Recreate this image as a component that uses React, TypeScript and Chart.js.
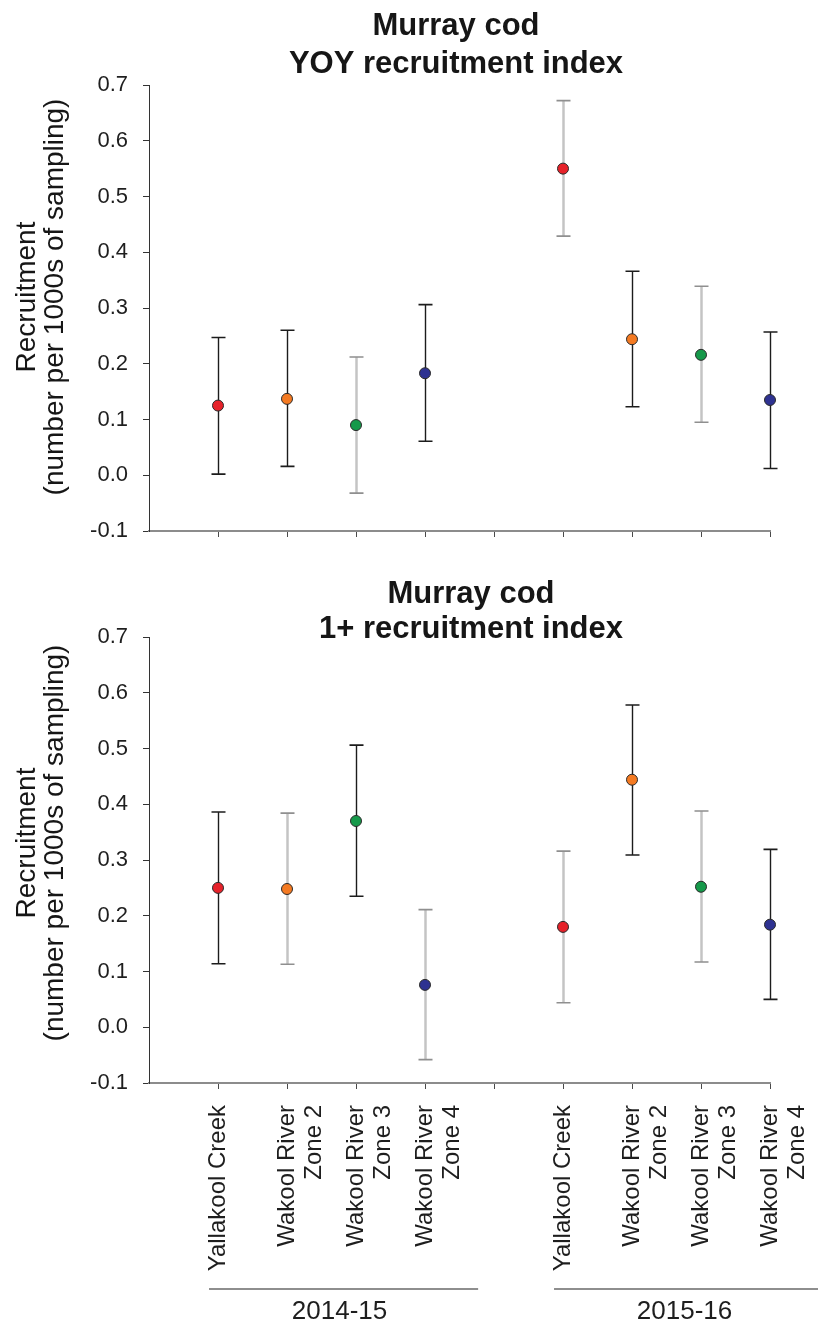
import React, { useEffect, useRef } from 'react';
import { Chart, registerables } from 'chart.js';

Chart.register(...registerables);

// ---------- data ----------
const seasons = ['2014-15', '2015-16'];
const sites: string[][] = [
  ['Yallakool Creek'],
  ['Wakool River', 'Zone 2'],
  ['Wakool River', 'Zone 3'],
  ['Wakool River', 'Zone 4'],
];
const siteColors = ['#e6222a', '#f47a22', '#16994a', '#2e3291'];

// YOY recruitment index (order: 2014-15 sites, then 2015-16 sites)
const yoyMean = [0.125, 0.137, 0.090, 0.183, 0.550, 0.244, 0.216, 0.135];
const yoyLower = [0.002, 0.016, -0.032, 0.061, 0.429, 0.123, 0.095, 0.012];
const yoyUpper = [0.247, 0.260, 0.212, 0.306, 0.672, 0.366, 0.339, 0.257];
const yoyBarTone = ['dark', 'dark', 'light', 'dark', 'light', 'dark', 'light', 'dark'];

// 1+ recruitment index
const plusMean = [0.250, 0.248, 0.370, 0.076, 0.180, 0.444, 0.252, 0.184];
const plusLower = [0.114, 0.113, 0.235, -0.058, 0.044, 0.309, 0.117, 0.050];
const plusUpper = [0.386, 0.384, 0.506, 0.211, 0.316, 0.578, 0.388, 0.319];
const plusBarTone = ['dark', 'light', 'dark', 'light', 'light', 'dark', 'light', 'dark'];

const yMin = -0.1;
const yMax = 0.7;
const yStep = 0.1;

const yTitleLines = ['Recruitment', '(number per 1000s of sampling)'];
const yoyTitle = ['Murray cod', 'YOY recruitment index'];
const plusTitle = ['Murray cod', '1+ recruitment index'];

// ---------- helpers ----------
const FONT = "'Liberation Sans', Arial, Helvetica, sans-serif";
const SLOT = sites.length + 1; // one empty slot between seasons
const X_MAX = seasons.length * SLOT - 1;

function positionOf(seasonIdx: number, siteIdx: number) {
  return seasonIdx * SLOT + siteIdx + 1;
}

function buildPoints(values: number[]) {
  const pts: { x: number; y: number }[] = [];
  seasons.forEach((_, s) => {
    sites.forEach((__, k) => {
      pts.push({ x: positionOf(s, k), y: values[s * sites.length + k] });
    });
  });
  return pts;
}

function pointColors() {
  const c: string[] = [];
  seasons.forEach(() => sites.forEach((_, k) => c.push(siteColors[k])));
  return c;
}

function labelFor(value: number) {
  const v = Math.round(value);
  if (v <= 0) return '';
  const k = v - 1;
  const siteIdx = k % SLOT;
  if (siteIdx >= sites.length) return '';
  return sites[siteIdx];
}

function formatY(v: number) {
  const n = Math.abs(v) < 1e-9 ? 0 : v;
  return n.toFixed(1);
}

const errorBarPlugin = {
  id: 'errorBars',
  beforeDatasetsDraw(chart: any) {
    const { ctx } = chart;
    const xs = chart.scales.x;
    const ys = chart.scales.y;
    const ds: any = chart.data.datasets[0];
    ctx.save();
    ds.data.forEach((p: any, i: number) => {
      const px = Math.round(xs.getPixelForValue(p.x)) + 0.5;
      const yl = ys.getPixelForValue(ds.errorLower[i]);
      const yh = ys.getPixelForValue(ds.errorUpper[i]);
      const light = ds.errorTone[i] === 'light';
      ctx.strokeStyle = light ? '#c4c4c4' : '#1c1c1c';
      ctx.lineWidth = light ? 2.5 : 1.4;
      ctx.beginPath();
      ctx.moveTo(px, yl);
      ctx.lineTo(px, yh);
      ctx.stroke();
      ctx.strokeStyle = light ? '#8f8f8f' : '#1c1c1c';
      ctx.lineWidth = 1.6;
      ctx.beginPath();
      ctx.moveTo(px - 7, yl);
      ctx.lineTo(px + 7, yl);
      ctx.moveTo(px - 7, yh);
      ctx.lineTo(px + 7, yh);
      ctx.stroke();
    });
    ctx.restore();
  },
};

function makeTextPlugin(cfg: {
  title: string[];
  titleX: number;
  titleBaselines: number[];
  yTitleCenter: number;
  groups: boolean;
}) {
  return {
    id: 'figureText',
    afterDraw(chart: any) {
      const { ctx } = chart;
      ctx.save();
      ctx.fillStyle = '#161616';
      ctx.textBaseline = 'alphabetic';
      ctx.textAlign = 'center';
      ctx.font = `bold 31px ${FONT}`;
      cfg.title.forEach((t, i) => ctx.fillText(t, cfg.titleX, cfg.titleBaselines[i]));

      ctx.font = `28px ${FONT}`;
      const yBase = [35, 63];
      yTitleLines.forEach((t, i) => {
        ctx.save();
        ctx.translate(yBase[i], cfg.yTitleCenter);
        ctx.rotate(-Math.PI / 2);
        ctx.fillText(t, 0, 0);
        ctx.restore();
      });

      if (cfg.groups) {
        const xs = chart.scales.x;
        ctx.font = `26px ${FONT}`;
        seasons.forEach((s, si) => {
          const start = xs.getPixelForValue(positionOf(si, 0) - 0.13);
          const end = xs.getPixelForValue(positionOf(si, sites.length - 1) + 0.77);
          ctx.strokeStyle = '#8e8e8e';
          ctx.lineWidth = 2;
          ctx.beginPath();
          ctx.moveTo(start, 729);
          ctx.lineTo(end, 729);
          ctx.stroke();
          ctx.fillStyle = '#1e1e1e';
          ctx.fillText(s, (start + end) / 2 - 4, 759);
        });
      }
      ctx.restore();
    },
  };
}

function makeConfig(opts: {
  mean: number[];
  lower: number[];
  upper: number[];
  tone: string[];
  showLabels: boolean;
  padTop: number;
  xHeight: number;
  title: string[];
  titleX: number;
  titleBaselines: number[];
  yTitleCenter: number;
}): any {
  return {
    type: 'scatter',
    data: {
      datasets: [
        {
          data: buildPoints(opts.mean),
          errorLower: opts.lower,
          errorUpper: opts.upper,
          errorTone: opts.tone,
          pointBackgroundColor: pointColors(),
          pointBorderColor: '#2a2a2a',
          pointBorderWidth: 1,
          pointRadius: 5.5,
          pointHoverRadius: 5.5,
          showLine: false,
          clip: false,
        },
      ],
    },
    options: {
      responsive: false,
      animation: false,
      events: [],
      layout: { padding: { top: opts.padTop, right: 48, bottom: 0, left: 0 } },
      plugins: {
        legend: { display: false },
        tooltip: { enabled: false },
        title: { display: false },
      },
      scales: {
        x: {
          type: 'linear',
          position: 'bottom',
          min: 0,
          max: X_MAX,
          afterFit: (s: any) => {
            s.height = opts.xHeight;
            s.paddingLeft = 0;
            s.paddingRight = 0;
          },
          ticks: {
            stepSize: 1,
            autoSkip: false,
            minRotation: 90,
            maxRotation: 90,
            padding: 16,
            color: '#1e1e1e',
            font: { family: FONT, size: 24, lineHeight: 1.12 },
            callback: (v: number) => (opts.showLabels ? labelFor(v) : ''),
          },
          grid: {
            display: true,
            drawOnChartArea: false,
            drawTicks: true,
            tickLength: 6,
            color: (c: any) => (c.tick && c.tick.value === 0 ? 'rgba(0,0,0,0)' : '#4a4a4a'),
            lineWidth: 1,
          },
          border: { display: true, color: '#8c8c8c', width: 2 },
        },
        y: {
          type: 'linear',
          min: yMin,
          max: yMax,
          afterFit: (s: any) => {
            s.width = 149;
            s.paddingTop = 0;
            s.paddingBottom = 0;
          },
          ticks: {
            stepSize: yStep,
            padding: 15,
            color: '#1e1e1e',
            font: { family: FONT, size: 22 },
            callback: (v: number) => formatY(Number(v)),
          },
          grid: {
            display: true,
            drawOnChartArea: false,
            drawTicks: true,
            tickLength: 6,
            color: '#333333',
            lineWidth: 1,
          },
          border: { display: true, color: '#333333', width: 1 },
        },
      },
    },
    plugins: [
      errorBarPlugin,
      makeTextPlugin({
        title: opts.title,
        titleX: opts.titleX,
        titleBaselines: opts.titleBaselines,
        yTitleCenter: opts.yTitleCenter,
        groups: opts.showLabels,
      }),
    ],
  };
}

function ChartCanvas({ config, top, height }: { config: any; top: number; height: number }) {
  const ref = useRef<HTMLCanvasElement | null>(null);
  useEffect(() => {
    if (!ref.current) return;
    const chart = new Chart(ref.current, config);
    return () => chart.destroy();
  }, [config]);
  return (
    <canvas
      ref={ref}
      width={818}
      height={height}
      style={{ position: 'absolute', left: 0, top, display: 'block' }}
    />
  );
}

const topConfig = makeConfig({
  mean: yoyMean,
  lower: yoyLower,
  upper: yoyUpper,
  tone: yoyBarTone,
  showLabels: false,
  padTop: 85,
  xHeight: 29,
  title: yoyTitle,
  titleX: 456,
  titleBaselines: [35, 73],
  yTitleCenter: 297,
});

const bottomConfig = makeConfig({
  mean: plusMean,
  lower: plusLower,
  upper: plusUpper,
  tone: plusBarTone,
  showLabels: true,
  padTop: 77,
  xHeight: 244,
  title: plusTitle,
  titleX: 471,
  titleBaselines: [43, 78],
  yTitleCenter: 283,
});

export default function App() {
  return (
    <div
      style={{
        position: 'absolute',
        left: 0,
        top: 0,
        width: 818,
        height: 1327,
        background: '#ffffff',
        overflow: 'hidden',
      }}
    >
      <ChartCanvas config={topConfig} top={0} height={560} />
      <ChartCanvas config={bottomConfig} top={560} height={767} />
    </div>
  );
}
